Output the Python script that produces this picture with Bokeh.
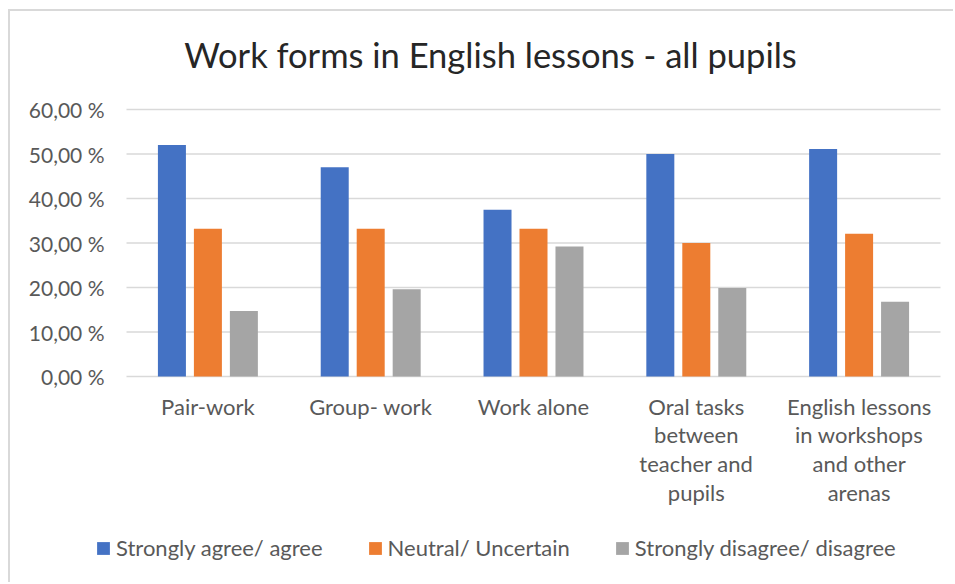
from bokeh.plotting import figure
from bokeh.models import Range1d, Legend, LegendItem, ColumnDataSource
from bokeh.transform import dodge
from bokeh.embed import file_html
from bokeh.resources import INLINE

# ---- data ----
categories = [
    "Pair-work",
    "Group- work",
    "Work alone",
    "Oral tasks\nbetween\nteacher and\npupils",
    "English lessons\nin workshops\nand other\narenas",
]
agree = [52.0, 47.0, 37.5, 50.0, 51.1]
neutral = [33.2, 33.2, 33.2, 30.0, 32.1]
disagree = [14.7, 19.6, 29.2, 19.9, 16.8]
series_names = ["Strongly agree/ agree", "Neutral/ Uncertain", "Strongly disagree/ disagree"]
series_colors = ["#4472C4", "#ED7D31", "#A5A5A5"]
y_ticks = [0, 10, 20, 30, 40, 50, 60]
y_tick_labels = ["0,00 %", "10,00 %", "20,00 %", "30,00 %", "40,00 %", "50,00 %", "60,00 %"]
title_text = "Work forms in English lessons - all pupils"

# ---- layout constants (pixels) ----
W, H = 945, 573
FRAME_L, FRAME_R = 116, 930          # plotting band inside the canvas
ZERO_Y = 365                         # canvas y of the 0 % line
PX_PER_UNIT = 4.45                   # pixels per percentage point
n = len(categories)
band = (FRAME_R - FRAME_L) / n
x_start = -0.5 - FRAME_L / band
x_end = x_start + W / band
y_end = ZERO_Y / PX_PER_UNIT
y_start = -(H - ZERO_Y) / PX_PER_UNIT

def px_to_x(px):
    return x_start + px / band

def py_to_y(py):
    return (ZERO_Y - py) / PX_PER_UNIT

FONT = "Lato"
TEXT_COLOR = "#595959"
GRID_COLOR = "#D9D9D9"

source = ColumnDataSource(dict(idx=list(range(n)), cat=categories,
                               agree=agree, neutral=neutral, disagree=disagree))

p = figure(
    width=W, height=H,
    x_range=Range1d(x_start, x_end), y_range=Range1d(y_start, y_end),
    output_backend="svg", toolbar_location=None,
    x_axis_location=None, y_axis_location=None,
    min_border=0,
)
p.margin = (9, 0, 0, 8)
p.styles = {"border-top": "2px solid #D9D9D9", "border-left": "2px solid #D9D9D9"}
p.outline_line_color = None
p.grid.grid_line_color = None

# gridlines
grid_src = ColumnDataSource(dict(y=y_ticks, x0=[-0.5] * len(y_ticks), x1=[n - 0.5] * len(y_ticks)))
p.segment(x0="x0", x1="x1", y0="y", y1="y", source=grid_src,
          line_color=GRID_COLOR, line_width=1.5)

# bars
offsets = [-0.221, 0.0, 0.221]
fields = ["agree", "neutral", "disagree"]
renderers = []
for f, off, col in zip(fields, offsets, series_colors):
    r = p.vbar(x=dodge("idx", off), top=f, width=0.172, bottom=0,
               source=source, fill_color=col, line_color=None)
    renderers.append(r)

# y tick labels
p.text(x=[px_to_x(FRAME_L - 22)] * len(y_ticks), y=y_ticks, text=y_tick_labels,
       text_align="right", text_baseline="middle",
       text_font={"value": FONT}, text_font_size="21px", text_color=TEXT_COLOR)

# category labels
p.text(x="idx", y=py_to_y(381), text="cat", source=source,
       text_align="center", text_baseline="top", text_line_height=1.07,
       text_font={"value": FONT}, text_font_size="22px", text_color=TEXT_COLOR)

# title
p.text(x=[px_to_x(480)], y=[py_to_y(43)], text=[title_text],
       text_align="center", text_baseline="alphabetic",
       text_font={"value": FONT}, text_font_size="34.5px", text_color="#262626")

legend = Legend(
    items=[LegendItem(label=nm, renderers=[r]) for nm, r in zip(series_names, renderers)],
    orientation="horizontal",
    location=(85, 23),
    label_text_font=FONT,
    label_text_font_size="22px",
    label_text_color=TEXT_COLOR,
    glyph_width=16, glyph_height=16,
    label_standoff=5, spacing=44,
    padding=0, margin=0,
    border_line_color=None,
    background_fill_alpha=0,
)
p.add_layout(legend, "center")

open("out.html", "w").write(file_html(p, INLINE))
